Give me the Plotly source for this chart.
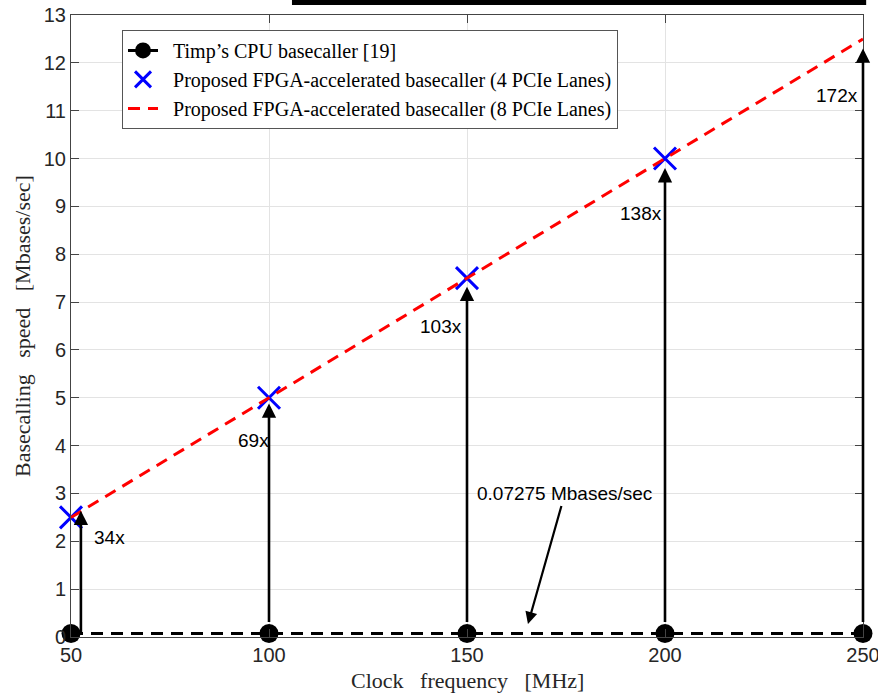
import plotly.graph_objects as go

# Clock frequencies [MHz]
freq = [50, 100, 150, 200, 250]
# Basecalling speeds [Mbases/sec]
cpu_speed = [0.07275, 0.07275, 0.07275, 0.07275, 0.07275]
fpga4_freq = [50, 100, 150, 200]
fpga4_speed = [2.5, 5.0, 7.5, 10.0]
fpga8_speed = [2.5, 5.0, 7.5, 10.0, 12.5]

# Speed-up arrows (x position, tail, head) and their labels
arrow_x = [52.5, 100, 150, 200, 250]
arrow_tail = [0.07275, 0.28, 0.28, 0.28, 0.28]
arrow_head = [2.64, 4.88, 7.32, 9.8, 12.3]
speedup_text = ["34x", "69x", "103x", "138x", "172x"]
speedup_label_x = [59.8, 96.0, 143.4, 193.9, 243.5]
speedup_label_y = [2.09, 4.10, 6.50, 8.86, 11.31]

x_ticks = [50, 100, 150, 200, 250]
y_ticks = list(range(0, 14))

SERIF = "Liberation Serif"
SANS = "Liberation Sans"
INK = "#262626"

fig = go.Figure()

fig.add_trace(go.Scatter(
    x=freq, y=cpu_speed, mode="lines+markers",
    name="\u00a0\u00a0Timp\u2019s CPU basecaller [19]",
    line=dict(color="black", width=3, dash="12px,8px"),
    marker=dict(symbol="circle", size=19, color="black"),
    cliponaxis=False,
))
fig.add_trace(go.Scatter(
    x=fpga4_freq, y=fpga4_speed, mode="markers",
    name="\u00a0\u00a0Proposed FPGA-accelerated basecaller (4 PCIe Lanes)",
    marker=dict(symbol="x-thin", size=22, color="blue",
                line=dict(color="blue", width=3)),
    cliponaxis=False,
))
fig.add_trace(go.Scatter(
    x=freq, y=fpga8_speed, mode="lines",
    name="\u00a0\u00a0Proposed FPGA-accelerated basecaller (8 PCIe Lanes)",
    line=dict(color="red", width=3, dash="12px,8px"),
    cliponaxis=False,
))

annotations = []
for xa, t0, t1 in zip(arrow_x, arrow_tail, arrow_head):
    annotations.append(dict(
        x=xa, y=t1, ax=xa, ay=t0, xref="x", yref="y", axref="x", ayref="y",
        text="", showarrow=True, arrowhead=2, arrowsize=1.1, arrowwidth=2.6,
        arrowcolor="black", standoff=0, startstandoff=0,
    ))
for lx, ly, txt in zip(speedup_label_x, speedup_label_y, speedup_text):
    annotations.append(dict(
        x=lx, y=ly, xref="x", yref="y", text=txt, showarrow=False,
        font=dict(family=SANS, size=19, color="black"),
    ))

# Callout for the CPU baseline speed
annotations.append(dict(
    x=165.4, y=0.27, ax=174.7, ay=2.99, xref="x", yref="y", axref="x", ayref="y",
    text="0.07275 Mbases/sec", showarrow=True, arrowhead=2, arrowsize=1.1,
    arrowwidth=2.2, arrowcolor="black", standoff=0,
    font=dict(family=SANS, size=19, color="black"),
))

# Axis titles
annotations.append(dict(
    x=0.5, y=-0.0707, xref="paper", yref="paper", xanchor="center", yanchor="middle",
    text="Clock\u00a0\u00a0 frequency\u00a0\u00a0 [MHz]", showarrow=False,
    font=dict(family=SERIF, size=22, color=INK),
))
annotations.append(dict(
    x=-0.0619, y=0.5, xref="paper", yref="paper", xanchor="center", yanchor="middle",
    text="Basecalling\u00a0\u00a0 speed\u00a0\u00a0 [Mbases/sec]", showarrow=False, textangle=-90,
    font=dict(family=SERIF, size=22, color=INK),
))

axis_common = dict(
    showline=True, linecolor="#444444", linewidth=1, mirror="ticks",
    ticks="inside", ticklen=8, tickcolor="#444444",
    showgrid=True, gridcolor="#e3e3e3", gridwidth=1, zeroline=False,
    tickfont=dict(family=SANS, size=20, color=INK),
    automargin=False, ticklabeloverflow="allow",
)

fig.update_layout(
    template="none",
    width=878, height=693,
    margin=dict(l=71, r=15, t=15, b=56),
    paper_bgcolor="white", plot_bgcolor="white",
    xaxis=dict(range=[50, 250], tickvals=x_ticks, **axis_common),
    yaxis=dict(range=[0, 13], tickvals=y_ticks, ticklabelstandoff=0, **axis_common),
    legend=dict(
        x=0.0644, y=0.976, xanchor="left", yanchor="top",
        bgcolor="white", bordercolor="#555555", borderwidth=1,
        font=dict(family=SERIF, size=20, color="black"),
        tracegroupgap=0, itemwidth=30,
    ),
    annotations=annotations,
    shapes=[dict(
        type="rect", xref="paper", yref="paper",
        x0=0.279, x1=1.004, y0=1.0161, y1=1.03,
        fillcolor="black", line=dict(width=0), layer="above",
    )],
    showlegend=True,
)

fig.write_html("out.html")
